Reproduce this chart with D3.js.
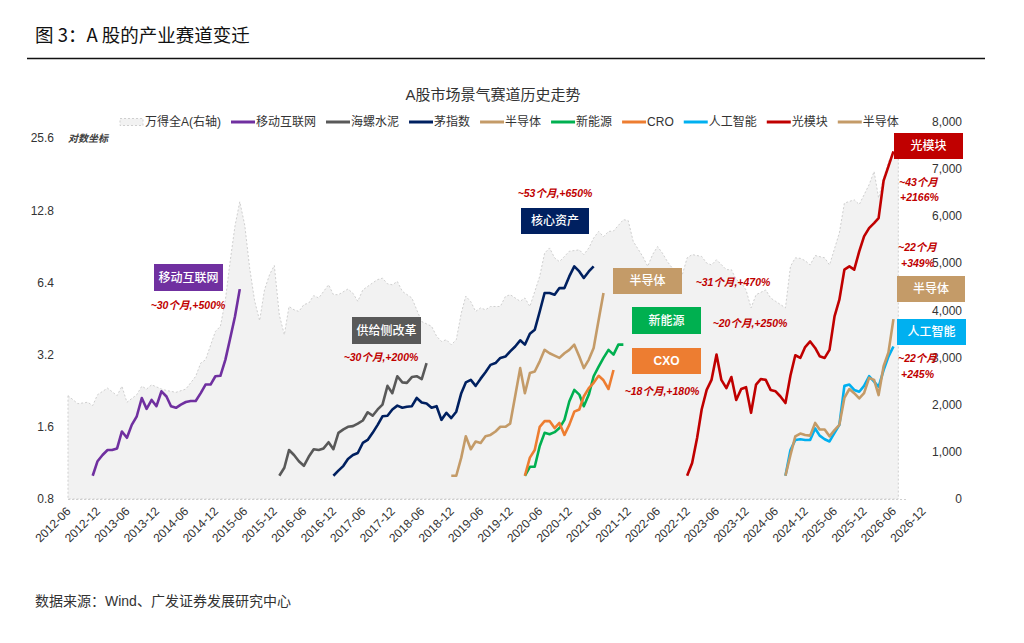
<!DOCTYPE html>
<html>
<head>
<meta charset="utf-8">
<script src="https://cdn.jsdelivr.net/npm/d3@7"></script>
<style>
  body { margin: 0; background: #fff; }
  svg { display: block; font-family: "Liberation Sans", Arial, "Noto Sans CJK SC", sans-serif; }
</style>
</head>
<body>
<svg width="1024" height="643"></svg>
<script>
// 横轴刻度（每半年）
const xTickLabels = ["2012-06","2012-12","2013-06","2013-12","2014-06","2014-12","2015-06","2015-12",
  "2016-06","2016-12","2017-06","2017-12","2018-06","2018-12","2019-06","2019-12","2020-06","2020-12",
  "2021-06","2021-12","2022-06","2022-12","2023-06","2023-12","2024-06","2024-12","2025-06","2025-12",
  "2026-06","2026-12"];
const leftTicks = [0.8, 1.6, 3.2, 6.4, 12.8, 25.6];
const rightTicks = [0, 1000, 2000, 3000, 4000, 5000, 6000, 7000, 8000];

// 万得全A（右轴）
const windA = [
  ["2012-06",2190],["2012-08",2020],["2012-10",2050],["2012-11",1980],["2012-12",2210],
  ["2013-02",2350],["2013-04",2190],["2013-05",2390],["2013-06",2050],["2013-08",2210],
  ["2013-09",2390],["2013-10",2330],["2013-11",2420],["2014-01",2330],["2014-02",2300],
  ["2014-04",2260],["2014-06",2330],["2014-08",2600],["2014-09",2880],["2014-10",2950],
  ["2014-12",3550],["2015-01",3660],["2015-02",4220],["2015-03",5000],["2015-04",5780],
  ["2015-05",6300],["2015-06",5800],["2015-07",4900],["2015-08",4200],["2015-09",3780],
  ["2015-10",4430],["2015-11",4750],["2015-12",4950],["2016-01",3900],["2016-02",3480],
  ["2016-03",4080],["2016-04",4010],["2016-05",3975],["2016-06",4120],["2016-07",4150],
  ["2016-08",4310],["2016-09",4260],["2016-11",4540],["2016-12",4330],["2017-01",4330],
  ["2017-03",4450],["2017-04",4360],["2017-05",4190],["2017-06",4430],["2017-08",4580],
  ["2017-09",4650],["2017-10",4680],["2017-11",4560],["2017-12",4540],["2018-01",4610],
  ["2018-02",4400],["2018-04",4260],["2018-05",4010],["2018-06",3760],["2018-08",3660],
  ["2018-09",3450],["2018-10",3340],["2018-11",3375],["2018-12",3270],["2019-01",3375],
  ["2019-02",3940],["2019-03",4300],["2019-04",4180],["2019-05",3975],["2019-06",4050],
  ["2019-07",4010],["2019-08",4080],["2019-10",4080],["2019-11",4290],["2019-12",4330],
  ["2020-02",4190],["2020-03",4260],["2020-04",4080],["2020-06",4720],["2020-07",5210],
  ["2020-08",5320],["2020-09",5110],["2020-10",5030],["2020-11",5140],["2020-12",5250],
  ["2021-02",5280],["2021-03",5180],["2021-04",5320],["2021-05",5530],["2021-06",5670],
  ["2021-07",5560],["2021-08",5670],["2021-09",5680],["2021-11",5920],["2021-12",5900],
  ["2022-01",5460],["2022-03",5140],["2022-04",4930],["2022-05",5180],["2022-06",5350],
  ["2022-07",5210],["2022-08",5030],["2022-09",4890],["2022-10",4790],["2022-11",4750],
  ["2022-12",5110],["2023-01",5180],["2023-03",5140],["2023-04",5000],["2023-05",4960],
  ["2023-06",5070],["2023-08",4860],["2023-09",4860],["2023-10",4650],["2023-11",4580],
  ["2023-12",4430],["2024-01",4050],["2024-02",4330],["2024-04",4430],["2024-05",4260],
  ["2024-06",4190],["2024-08",4050],["2024-09",4930],["2024-10",5110],["2024-11",5100],
  ["2024-12",5050],["2025-01",4960],["2025-02",5160],["2025-04",5110],["2025-05",4960],
  ["2025-07",5640],["2025-08",6270],["2025-10",6340],["2025-11",6240],["2026-01",6660],
  ["2026-02",6940],["2026-03",6380],["2026-04",6800],["2026-05",7150],["2026-06",7360],
  ["2026-07",7380]
];

// 各赛道月度走势（左轴，对数，起点归一为 1）
const mobileValues = [1.0,1.15,1.22,1.28,1.28,1.30,1.53,1.44,1.63,1.77,2.11,1.90,2.07,1.95,2.25,2.14,
  1.95,1.92,1.98,2.03,2.05,2.05,2.21,2.40,2.40,2.60,2.61,3.05,3.70,4.60,6.0];
const cementValues = [1.0,1.08,1.28,1.22,1.15,1.10,1.20,1.29,1.28,1.30,1.38,1.29,1.51,1.56,1.60,1.61,
  1.65,1.70,1.84,1.78,1.89,1.98,2.37,2.21,2.60,2.45,2.44,2.58,2.60,2.53,2.95];
const maoValues = [1.0,1.05,1.10,1.175,1.22,1.244,1.37,1.41,1.51,1.63,1.77,1.78,1.89,1.96,1.92,1.94,
  1.95,2.11,2.02,2.00,1.92,1.95,1.71,1.83,1.74,1.85,2.21,2.45,2.51,2.37,2.54,2.70,2.90,2.95,3.10,
  3.14,3.30,3.46,3.67,3.52,3.91,4.06,4.84,5.78,5.78,5.69,6.06,6.06,6.78,7.46,7.11,6.68,7.11,7.46];
const semi1Values = [1.0,1.0,1.19,1.46,1.29,1.39,1.37,1.46,1.48,1.53,1.60,1.60,1.65,2.15,2.81,2.21,
  2.68,2.72,3.00,3.35,3.24,3.17,3.10,3.24,3.35,3.52,3.14,2.81,3.05,3.41,4.47,5.78];
const newEnergyValues = [1.0,1.09,1.09,1.33,1.51,1.49,1.52,1.58,1.71,2.04,2.28,2.18,1.95,2.18,2.60,
  2.85,3.10,3.35,3.20,3.52,3.52];
const croValues = [1.0,1.19,1.28,1.60,1.69,1.69,1.58,1.66,1.48,1.63,1.85,1.89,2.14,2.32,2.44,2.61,
  2.50,2.30,2.76];
const aiValues = [1.0,1.28,1.41,1.42,1.41,1.41,1.575,1.47,1.42,1.39,1.51,1.63,2.37,2.40,2.28,2.24,
  2.37,2.60,2.47,2.35,2.76,3.14,3.46];
const opticalValues = [1.0,1.13,1.44,1.89,2.28,2.51,3.20,2.51,2.32,2.58,2.07,2.30,2.34,1.83,2.40,2.53,
  2.51,2.28,2.25,2.14,2.01,2.62,3.18,3.10,3.44,3.63,3.41,3.15,3.10,3.35,4.62,5.42,7.23,7.46,7.23,
  8.62,9.95,10.78,11.31,11.87,17.0,19.5,22.5];
const semi2Values = [1.0,1.22,1.46,1.50,1.48,1.47,1.66,1.56,1.56,1.46,1.55,1.63,2.11,2.30,2.21,2.10,
  2.21,2.56,2.51,2.17,2.86,3.27,4.50];

const parseMonth = d3.timeParse("%Y-%m");
const monthly = (start, values) => {
  const t0 = parseMonth(start);
  return values.map((v, i) => ({ date: d3.timeMonth.offset(t0, i), value: v }));
};

const series = [
  { name: "移动互联网", color: "#7030a0", data: monthly("2012-11", mobileValues) },
  { name: "海螺水泥", color: "#595959", data: monthly("2016-01", cementValues) },
  { name: "茅指数", color: "#002060", data: monthly("2016-12", maoValues) },
  { name: "半导体", color: "#c49b68", data: monthly("2018-12", semi1Values) },
  { name: "新能源", color: "#00b050", data: monthly("2020-03", newEnergyValues) },
  { name: "CRO", color: "#ed7d31", data: monthly("2020-03", croValues) },
  { name: "人工智能", color: "#00b0f0", data: monthly("2024-08", aiValues) },
  { name: "光模块", color: "#c00000", data: monthly("2022-12", opticalValues) },
  { name: "半导体", color: "#c49b68", data: monthly("2024-08", semi2Values) }
];

const svg = d3.select("svg");
const textColor = "#333";

// 比例尺
const x = d3.scaleTime().domain([parseMonth("2012-06"), parseMonth("2026-12")]).range([68, 923]);
const yLeft = d3.scaleLog().base(2).domain([0.8, 25.6]).range([499, 138]);
const yRight = d3.scaleLinear().domain([0, 8000]).range([499, 121.5]);

// 标题与分隔线
svg.append("text").attr("x", 35).attr("y", 42)
  .attr("font-size", 18.5).attr("fill", "#111")
  .attr("font-family", "'Noto Sans CJK SC', sans-serif")
  .text("图 3：A 股的产业赛道变迁");
svg.append("line").attr("x1", 27).attr("x2", 985).attr("y1", 58.5).attr("y2", 58.5)
  .attr("stroke", "#111").attr("stroke-width", 1.5);

svg.append("text").attr("x", 493).attr("y", 100).attr("text-anchor", "middle")
  .attr("font-size", 15).attr("fill", textColor)
  .text("A股市场景气赛道历史走势");

// 万得全A 面积
const area = d3.area()
  .x(d => x(parseMonth(d[0])))
  .y0(yRight(0))
  .y1(d => yRight(d[1]));
svg.append("path").datum(windA)
  .attr("d", area)
  .attr("fill", "#f2f2f2")
  .attr("stroke", "#cfcfcf")
  .attr("stroke-width", 1)
  .attr("stroke-dasharray", "2,2");

// 底部虚线
svg.append("line").attr("x1", 68).attr("x2", 908).attr("y1", 499.5).attr("y2", 499.5)
  .attr("stroke", "#cfcfcf").attr("stroke-dasharray", "2,2");

// 坐标轴
const xAxis = svg.append("g").attr("transform", "translate(0,499)")
  .call(d3.axisBottom(x).tickValues(xTickLabels.map(parseMonth))
    .tickFormat(d3.timeFormat("%Y-%m")).tickSize(0));
xAxis.select(".domain").remove();
xAxis.selectAll("text")
  .attr("x", 0).attr("y", 0).attr("dy", "0.35em")
  .attr("transform", "translate(0,10) rotate(-45)")
  .attr("text-anchor", "end")
  .attr("font-size", 12).attr("fill", textColor)
  .attr("font-family", "'Liberation Sans', Arial, sans-serif");

const leftAxis = svg.append("g").attr("transform", "translate(68,0)")
  .call(d3.axisLeft(yLeft).tickValues(leftTicks).tickFormat(d3.format(".1f")).tickSize(0).tickPadding(14));
leftAxis.select(".domain").remove();
leftAxis.selectAll("text").attr("font-size", 12).attr("fill", textColor)
  .attr("font-family", "'Liberation Sans', Arial, sans-serif");

const rightAxis = svg.append("g").attr("transform", "translate(908,0)")
  .call(d3.axisRight(yRight).tickValues(rightTicks).tickFormat(d3.format(",")).tickSize(0));
rightAxis.select(".domain").remove();
rightAxis.selectAll("text").attr("x", 54).attr("text-anchor", "end")
  .attr("font-size", 12).attr("fill", textColor)
  .attr("font-family", "'Liberation Sans', Arial, sans-serif");

svg.append("text").attr("x", 68).attr("y", 142)
  .attr("font-size", 10).attr("font-weight", "bold").attr("font-style", "italic")
  .attr("fill", "#404040").text("对数坐标");

// 各赛道折线
const line = d3.line().x(d => x(d.date)).y(d => yLeft(d.value));
svg.append("g").selectAll("path")
  .data(series)
  .join("path")
  .attr("d", d => line(d.data))
  .attr("fill", "none")
  .attr("stroke", d => d.color)
  .attr("stroke-width", 2.6)
  .attr("stroke-linejoin", "round");

// 图例
const legend = svg.append("g").attr("font-size", 12).attr("fill", textColor);
let lx = 120;
const legendItems = [{ name: "万得全A(右轴)", area: true }].concat(series);
legendItems.forEach(d => {
  if (d.area) {
    legend.append("rect").attr("x", lx).attr("y", 118.5).attr("width", 23).attr("height", 7)
      .attr("fill", "#f2f2f2").attr("stroke", "#cfcfcf").attr("stroke-dasharray", "2,2");
  } else {
    legend.append("line").attr("x1", lx).attr("x2", lx + 24).attr("y1", 122).attr("y2", 122)
      .attr("stroke", d.color).attr("stroke-width", 3);
  }
  const t = legend.append("text").attr("x", lx + 25).attr("y", 122).attr("dy", "0.35em")
    .attr("fill", textColor).text(d.name);
  lx += 25 + t.node().getComputedTextLength() + 10;
});

// 赛道标签框
const boxes = [
  { text: "移动互联网", color: "#7030a0", x: 154, y: 264, w: 69, h: 27 },
  { text: "供给侧改革", color: "#595959", x: 352, y: 317, w: 69, h: 27 },
  { text: "核心资产", color: "#002060", x: 521, y: 208, w: 68, h: 26 },
  { text: "半导体", color: "#c49b68", x: 613, y: 268, w: 69, h: 26 },
  { text: "新能源", color: "#00b050", x: 632, y: 307, w: 69, h: 27 },
  { text: "CXO", color: "#ed7d31", x: 632, y: 348, w: 69, h: 26 },
  { text: "光模块", color: "#c00000", x: 894, y: 133, w: 69, h: 26 },
  { text: "半导体", color: "#c49b68", x: 897, y: 276, w: 68, h: 26 },
  { text: "人工智能", color: "#00b0f0", x: 897, y: 319, w: 69, h: 26 }
];
const boxG = svg.append("g").selectAll("g").data(boxes).join("g");
boxG.append("rect")
  .attr("x", d => d.x).attr("y", d => d.y).attr("width", d => d.w).attr("height", d => d.h)
  .attr("fill", d => d.color);
boxG.append("text")
  .attr("x", d => d.x + d.w / 2).attr("y", d => d.y + d.h / 2).attr("dy", "0.35em")
  .attr("text-anchor", "middle").attr("font-size", 12).attr("fill", "#fff")
  .attr("font-weight", d => d.text === "CXO" ? "bold" : 500)
  .text(d => d.text);

// 涨幅注释
const notes = [
  { text: "~30个月,+500%", x: 188, y: 305, anchor: "middle" },
  { text: "~30个月,+200%", x: 381, y: 357, anchor: "middle" },
  { text: "~53个月,+650%", x: 555, y: 193, anchor: "middle" },
  { text: "~31个月,+470%", x: 733, y: 282, anchor: "middle" },
  { text: "~20个月,+250%", x: 750, y: 323, anchor: "middle" },
  { text: "~18个月,+180%", x: 662, y: 391, anchor: "middle" },
  { text: "~43个月", x: 899, y: 182, anchor: "start" },
  { text: "+2166%", x: 900, y: 197.5, anchor: "start" },
  { text: "~22个月", x: 898, y: 247, anchor: "start" },
  { text: "+349%", x: 901, y: 263, anchor: "start" },
  { text: "~22个月", x: 898, y: 358, anchor: "start" },
  { text: "+245%", x: 901, y: 374, anchor: "start" }
];
svg.append("g").selectAll("text").data(notes).join("text")
  .attr("x", d => d.x).attr("y", d => d.y).attr("dy", "0.35em")
  .attr("text-anchor", d => d.anchor)
  .attr("font-size", 10.5).attr("font-weight", "bold").attr("font-style", "italic")
  .attr("fill", "#c00000")
  .text(d => d.text);

// 数据来源
svg.append("text").attr("x", 35).attr("y", 606)
  .attr("font-size", 14).attr("fill", textColor)
  .text("数据来源：Wind、广发证券发展研究中心");
</script>
</body>
</html>
